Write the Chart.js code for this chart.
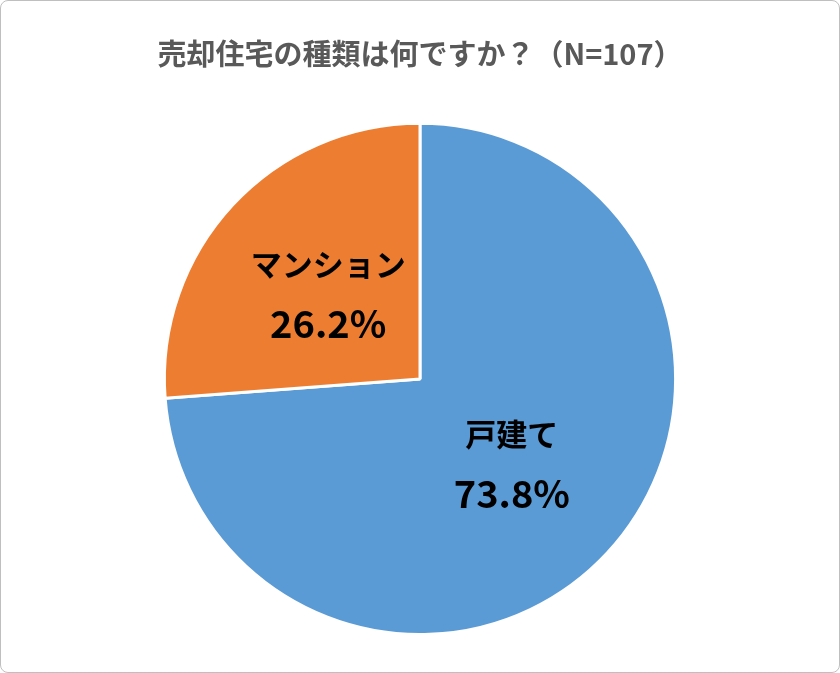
<!DOCTYPE html>
<html>
<head>
<meta charset="utf-8">
<script src="https://cdn.jsdelivr.net/npm/chart.js@4"></script>
<style>
  html, body { margin: 0; padding: 0; background: #fff; }
  .frame { width: 840px; height: 673px; box-sizing: border-box; border: 1px solid #bfbfbf; border-radius: 8px; overflow: hidden; }
</style>
</head>
<body>
<div class="frame"><canvas id="chart" width="838" height="671"></canvas></div>
<script>
const categories = ['戸建て', 'マンション'];
const shares = [73.8, 26.2];
const colors = ['#5b9bd5', '#ed7d31'];

const font = "'Noto Sans CJK JP', 'Noto Sans', sans-serif";

// Draws the category name and percentage inside each slice.
const sliceLabels = {
  id: 'sliceLabels',
  afterDatasetsDraw(chart) {
    const g = chart.ctx;
    const meta = chart.getDatasetMeta(0);
    g.save();
    g.fillStyle = '#000';
    g.textAlign = 'center';
    g.textBaseline = 'middle';
    meta.data.forEach((arc, i) => {
      const mid = (arc.startAngle + arc.endAngle) / 2;
      const r = arc.outerRadius * 0.49;
      const x = arc.x + Math.cos(mid) * r;
      const y = arc.y + Math.sin(mid) * r;
      g.font = `bold 31px ${font}`;
      g.fillText(categories[i], x, y - 30);
      g.font = `bold 38px ${font}`;
      g.fillText(shares[i].toFixed(1) + '%', x, y + 30);
    });
    g.restore();
  },
};

new Chart(document.getElementById('chart'), {
  type: 'pie',
  data: {
    labels: categories,
    datasets: [{
      data: shares,
      backgroundColor: colors,
      borderColor: '#fff',
      borderWidth: 3,
    }],
  },
  options: {
    responsive: false,
    animation: false,
    layout: { padding: { top: 36, bottom: 36 } },
    plugins: {
      legend: { display: false },
      tooltip: { enabled: false },
      title: {
        display: true,
        text: '売却住宅の種類は何ですか？（N=107）',
        color: '#595959',
        font: { family: font, size: 29, weight: 'bold' },
        padding: { top: 0, bottom: 50 },
      },
    },
  },
  plugins: [sliceLabels],
});
</script>
</body>
</html>
